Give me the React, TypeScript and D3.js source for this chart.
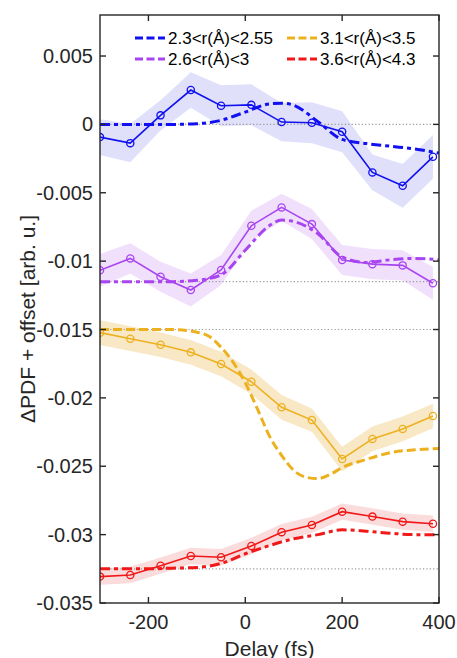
import * as d3 from 'd3';
import React from 'react';

// delay points of the measured curves (fs)
const delays = [-300, -237.5, -175, -112.5, -50, 12.5, 75, 137.5, 200, 262.5, 325, 387.5];

// measured ΔPDF (already offset) and the half width of the shaded band
const blueData = [-0.00093, -0.00137, 0.00066, 0.00251, 0.00136, 0.00143, 0.00017, 0.00012, -0.00054, -0.00351, -0.00449, -0.00237];
const blueErr = [0.0013, 0.0014, 0.0011, 0.0013, 0.0015, 0.0015, 0.0014, 0.0015, 0.0015, 0.0013, 0.0016, 0.0016];
const purpleData = [-0.01067, -0.0098, -0.01114, -0.01211, -0.01065, -0.00741, -0.00607, -0.00729, -0.00992, -0.01022, -0.01031, -0.01162];
const purpleErr = [0.0012, 0.0011, 0.0011, 0.0012, 0.0011, 0.0011, 0.001, 0.0011, 0.0011, 0.0011, 0.0011, 0.0012];
const yellowData = [-0.01523, -0.01567, -0.01611, -0.01667, -0.01752, -0.01882, -0.02069, -0.02162, -0.02447, -0.023, -0.02227, -0.02132];
const yellowErr = [0.0009, 0.0009, 0.0009, 0.0009, 0.0009, 0.0009, 0.0009, 0.00085, 0.0009, 0.0009, 0.0009, 0.0009];
const redData = [-0.03307, -0.03295, -0.03227, -0.03156, -0.03165, -0.03083, -0.02982, -0.02929, -0.02832, -0.02868, -0.02905, -0.0292];
const redErr = [0.0006, 0.0006, 0.0006, 0.0006, 0.0006, 0.0006, 0.0006, 0.0006, 0.0006, 0.0006, 0.0006, 0.0006];

const blueFitT = [-300, -250, -200, -150, -100, -50, 0, 50, 75, 100, 150, 200, 250, 300, 350, 400];
const blueFit = [0, 0, 0, 0, 0.00005, 0.0003, 0.0009, 0.0015, 0.00155, 0.0014, 0.0002, -0.0011, -0.0014, -0.0016, -0.0018, -0.0021];
const purpleFitT = [-300, -250, -200, -150, -100, -50, 0, 50, 75, 100, 150, 200, 250, 300, 350, 400];
const purpleFit = [-0.0115, -0.0115, -0.0115, -0.0115, -0.0114, -0.011, -0.0092, -0.0074, -0.007, -0.0071, -0.008, -0.0097, -0.0101, -0.0099, -0.0098, -0.0099];
const yellowFitT = [-300, -200, -150, -100, -75, -50, -25, 0, 25, 50, 75, 100, 125, 150, 175, 200, 250, 300, 350, 400];
const yellowFit = [-0.015, -0.015, -0.015, -0.0152, -0.0155, -0.0163, -0.0174, -0.0189, -0.0208, -0.0228, -0.0242, -0.0253, -0.0258, -0.0259, -0.0256, -0.0251, -0.0245, -0.024, -0.0238, -0.0237];
const redFitT = [-300, -250, -200, -150, -100, -50, 0, 50, 100, 150, 200, 250, 300, 350, 400];
const redFit = [-0.0325, -0.0325, -0.0325, -0.03245, -0.0324, -0.0321, -0.0314, -0.0308, -0.0303, -0.03, -0.02965, -0.02975, -0.0299, -0.03, -0.03];

const offsets = [0, -0.0115, -0.015, -0.0325];
const labels = ['2.3<r(Å)<2.55', '2.6<r(Å)<3', '3.1<r(Å)<3.5', '3.6<r(Å)<4.3'];
const colors = ['#1010f0', '#a845f0', '#edb120', '#f01818'];
const bandColors = ['#e0e0fb', '#f1e0fb', '#f8e8c6', '#fbdcdc'];
const fitDash = ['10,4,4,4', '10,4,4,4', '9,4', '10,4,4,4'];
const xTicks = [-200, 0, 200, 400];
const yTicks = [0.005, 0, -0.005, -0.01, -0.015, -0.02, -0.025, -0.03, -0.035];

const series = [
  { data: blueData, err: blueErr, fitT: blueFitT, fit: blueFit },
  { data: purpleData, err: purpleErr, fitT: purpleFitT, fit: purpleFit },
  { data: yellowData, err: yellowErr, fitT: yellowFitT, fit: yellowFit },
  { data: redData, err: redErr, fitT: redFitT, fit: redFit },
];

const W = 457;
const H = 658;
const m = { left: 100, right: 439, top: 15, bottom: 603 };
const font = '"Liberation Sans", Arial, Helvetica, sans-serif';

const App: React.FC = () => {
  const x = d3.scaleLinear().domain([-300, 400]).range([m.left, m.right]);
  const y = d3.scaleLinear().domain([-0.035, 0.008]).range([m.bottom, m.top]);

  const solid = d3
    .line<number>()
    .x((_, i) => x(delays[i]))
    .y(d => y(d));

  return (
    <svg width={W} height={H} style={{ position: 'absolute', left: 0, top: 0, background: '#fff' }} fontFamily={font}>
      <defs>
        <clipPath id="plot">
          <rect x={m.left} y={m.top} width={m.right - m.left} height={m.bottom - m.top} />
        </clipPath>
      </defs>
      <g clipPath="url(#plot)">
        {/* shaded uncertainty bands */}
        {series.map((s, k) => {
          const a = d3
            .area<number>()
            .x((_, i) => x(delays[i]))
            .y0((d, i) => y(d - s.err[i]))
            .y1((d, i) => y(d + s.err[i]));
          return <path key={'b' + k} d={a(s.data) || ''} fill={bandColors[k]} stroke="none" />;
        })}
        {/* offset baselines */}
        {offsets.map((o, k) => (
          <line key={'o' + k} x1={m.left} x2={m.right} y1={y(o)} y2={y(o)} stroke="#999" strokeWidth={1.2} strokeDasharray="1.2,2.2" />
        ))}
        {series.map((s, k) => {
          const fit = d3
            .line<number>()
            .x((_, i) => x(s.fitT[i]))
            .y(d => y(d))
            .curve(d3.curveMonotoneX);
          return (
            <g key={'s' + k}>
              <path d={solid(s.data) || ''} fill="none" stroke={colors[k]} strokeWidth={1.6} />
              {s.data.map((d, i) => (
                <circle key={i} cx={x(delays[i])} cy={y(d)} r={3.6} fill="none" stroke={colors[k]} strokeWidth={1.3} />
              ))}
              <path d={fit(s.fit) || ''} fill="none" stroke={colors[k]} strokeWidth={3} strokeDasharray={fitDash[k]} />
            </g>
          );
        })}
      </g>

      {/* axes box */}
      <rect x={m.left} y={m.top} width={m.right - m.left} height={m.bottom - m.top} fill="none" stroke="#262626" strokeWidth={1.4} />
      {yTicks.map(t => (
        <g key={'y' + t}>
          <line x1={m.left} x2={m.left + 6} y1={y(t)} y2={y(t)} stroke="#262626" strokeWidth={1.4} />
          <line x1={m.right} x2={m.right - 6} y1={y(t)} y2={y(t)} stroke="#262626" strokeWidth={1.4} />
          <text x={m.left - 7} y={y(t)} textAnchor="end" dominantBaseline="central" fontSize={20} fill="#262626">
            {t === 0 ? '0' : String(t)}
          </text>
        </g>
      ))}
      {xTicks.map(t => (
        <g key={'x' + t}>
          <line x1={x(t)} x2={x(t)} y1={m.bottom} y2={m.bottom - 6} stroke="#262626" strokeWidth={1.4} />
          <line x1={x(t)} x2={x(t)} y1={m.top} y2={m.top + 6} stroke="#262626" strokeWidth={1.4} />
          <text x={x(t)} y={622} textAnchor="middle" dominantBaseline="central" fontSize={20} fill="#262626">
            {String(t)}
          </text>
        </g>
      ))}
      <text x={(m.left + m.right) / 2} y={648} textAnchor="middle" dominantBaseline="central" fontSize={21} fill="#262626">
        Delay (fs)
      </text>
      <text
        transform={`translate(27,${(m.top + m.bottom) / 2 + 10}) rotate(-90)`}
        textAnchor="middle"
        dominantBaseline="central"
        fontSize={21}
        fill="#262626"
      >
        ΔPDF + offset [arb. u.]
      </text>

      {/* legend */}
      {labels.map((l, k) => {
        const col = k < 2 ? 0 : 1;
        const row = k % 2;
        const lx = col === 0 ? 135 : 287;
        const ly = row === 0 ? 38 : 59;
        return (
          <g key={'l' + k}>
            <line x1={lx} x2={lx + 30} y1={ly} y2={ly} stroke={colors[k]} strokeWidth={3} strokeDasharray="8,3.5" />
            <text x={lx + 33} y={ly} dominantBaseline="central" fontSize={17} fill="#000">
              {l}
            </text>
          </g>
        );
      })}
    </svg>
  );
};

export default App;
